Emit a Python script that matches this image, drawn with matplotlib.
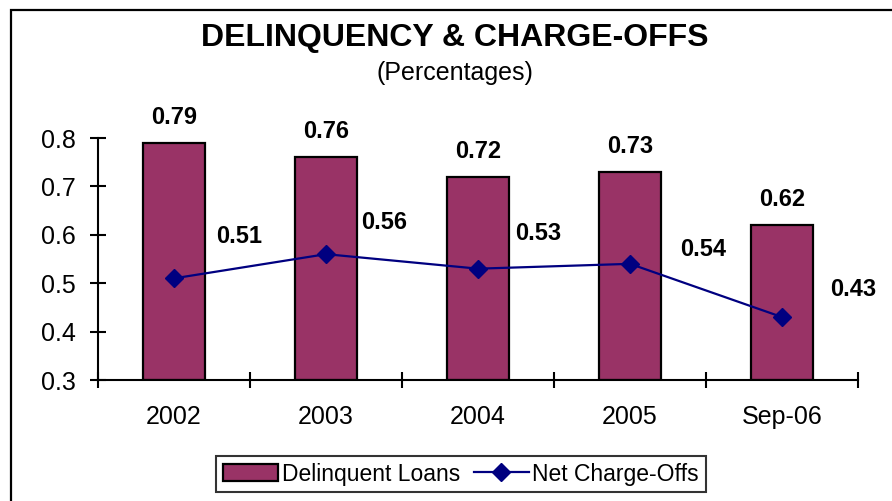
import matplotlib
matplotlib.use('Agg')
import matplotlib.pyplot as plt
from matplotlib.patches import Rectangle

plt.rcParams['font.family'] = ['Liberation Sans', 'DejaVu Sans']

# data
years = ['2002', '2003', '2004', '2005', 'Sep-06']
delinquent = [0.79, 0.76, 0.72, 0.73, 0.62]
charge_offs = [0.51, 0.56, 0.53, 0.54, 0.43]

# label offsets (points) for the line labels
line_lbl_off = [(47, 30), (42, 23), (43, 25), (53, 10), (51, 20)]

fig = plt.figure(figsize=(8.92, 5.01), dpi=100)
ax = fig.add_axes([98/892, 1-380/501, 760/892, 242/501])

# outer chart frame, cut off on the right and bottom like the original
fig.patches.append(Rectangle((11/892, -0.05), 1.0, 1-10/501+0.05,
                             transform=fig.transFigure, fill=False,
                             edgecolor='black', linewidth=1.6))

x = list(range(len(years)))
bars = ax.bar(x, [d - 0.3 for d in delinquent], bottom=0.3, width=0.41,
              color='#993366', edgecolor='black', linewidth=1.6,
              label='Delinquent Loans', zorder=2)
line, = ax.plot(x, charge_offs, color='#000080', marker='D', markersize=9,
                linewidth=1.6, label='Net Charge-Offs', zorder=3)

for i, v in enumerate(delinquent):
    ax.annotate('%.2f' % v, (i, v), xytext=(0, 10), textcoords='offset points',
                ha='center', va='bottom', fontsize=17, fontweight='bold')
for i, v in enumerate(charge_offs):
    ax.annotate('%.2f' % v, (i, v), xytext=line_lbl_off[i], textcoords='offset points',
                ha='center', va='center', fontsize=17, fontweight='bold')

ax.set_xlim(-0.5, len(years) - 0.5)
ax.set_ylim(0.3, 0.8)
ax.set_yticks([0.3, 0.4, 0.5, 0.6, 0.7, 0.8])
ax.set_yticklabels(['0.3', '0.4', '0.5', '0.6', '0.7', '0.8'])
ax.set_xticks(x)
ax.set_xticklabels(years)
ax.set_xticks([i - 0.5 for i in range(len(years) + 1)], minor=True)
ax.tick_params(axis='x', which='major', length=0, pad=18, labelsize=18)
ax.tick_params(axis='x', which='minor', direction='inout', length=12, width=1.5)
ax.tick_params(axis='y', direction='inout', length=12, width=1.5, labelsize=18, pad=10)

ax.spines['top'].set_visible(False)
ax.spines['right'].set_visible(False)
ax.spines['left'].set_linewidth(1.5)
ax.spines['bottom'].set_linewidth(1.5)

fig.text(455/892, 1-38/501, 'DELINQUENCY & CHARGE-OFFS', ha='center', va='center',
         fontsize=23, fontweight='bold')
fig.text(455/892, 1-73/501, '(Percentages)', ha='center', va='center', fontsize=18)

leg = fig.legend([bars, line], ['Delinquent Loans', 'Net Charge-Offs'],
                 loc='center', bbox_to_anchor=(461/892, 1-474/501), ncol=2,
                 fontsize=16.5, frameon=True, fancybox=False, edgecolor='black',
                 handlelength=2.4, handletextpad=0.15, columnspacing=0.6,
                 borderpad=0.3)
leg.get_frame().set_linewidth(1.5)

fig.savefig('out.png', dpi=100)
